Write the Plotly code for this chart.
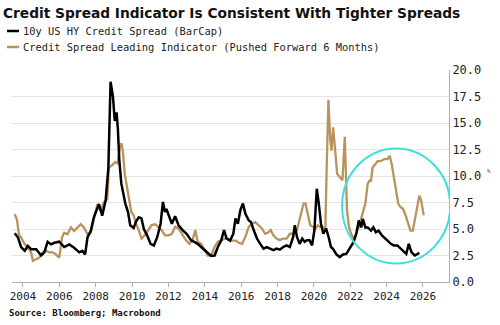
import plotly.graph_objects as go

# 10y US HY Credit Spread (BarCap)
hy_x = [2003.55, 2003.73, 2003.9, 2004.1, 2004.27, 2004.45, 2004.73, 2005.0, 2005.18, 2005.36,
        2005.55, 2005.73, 2006.0, 2006.27, 2006.55, 2006.8, 2007.1, 2007.27, 2007.42, 2007.55,
        2007.73, 2007.9, 2008.18, 2008.36, 2008.55, 2008.7, 2008.82, 2008.95, 2009.05, 2009.15,
        2009.22, 2009.3, 2009.41, 2009.54, 2009.63, 2009.78, 2009.9, 2010.09, 2010.22, 2010.37,
        2010.52, 2010.65, 2010.83, 2011.02, 2011.2, 2011.39, 2011.57, 2011.7, 2011.81, 2011.89,
        2012.0, 2012.19, 2012.37, 2012.56, 2012.78, 2013.0, 2013.24, 2013.43, 2013.61, 2013.8,
        2014.0, 2014.17, 2014.35, 2014.54, 2014.72, 2014.9, 2015.06, 2015.2, 2015.39, 2015.57,
        2015.69, 2015.82, 2015.96, 2016.1, 2016.23, 2016.42, 2016.54, 2016.69, 2016.87, 2017.05,
        2017.23, 2017.41, 2017.6, 2017.77, 2017.95, 2018.13, 2018.31, 2018.5, 2018.68, 2018.86,
        2018.95, 2019.07, 2019.22, 2019.36, 2019.49, 2019.62, 2019.76, 2019.9, 2020.03, 2020.16,
        2020.27, 2020.39, 2020.52, 2020.67, 2020.81, 2020.94, 2021.06, 2021.24, 2021.42, 2021.6,
        2021.78, 2021.93, 2022.05, 2022.18, 2022.33, 2022.47, 2022.6, 2022.69, 2022.83, 2022.96,
        2023.14, 2023.27, 2023.41, 2023.56, 2023.74, 2023.92, 2024.05, 2024.23, 2024.4, 2024.59,
        2024.77, 2024.95, 2025.08, 2025.22, 2025.37, 2025.55, 2025.67, 2025.8]
hy_y = [4.6, 4.2, 3.3, 2.95, 3.4, 3.1, 3.1, 2.5, 2.8, 3.8,
        3.55, 3.7, 3.8, 3.3, 3.55, 3.25, 2.8, 2.95, 2.6, 4.2,
        4.8, 6.1, 7.35, 6.25, 7.7, 10.8, 18.9, 17.5, 15.2, 16.0,
        14.5, 11.5, 9.3, 8.0, 7.4, 6.6, 5.35, 5.1, 5.7, 6.1,
        6.0, 5.0, 4.4, 3.6, 3.45, 4.25, 5.5, 7.55, 6.6, 6.9,
        6.3, 5.5, 6.2, 5.35, 4.9, 4.55, 3.95, 3.8, 3.6, 3.3,
        3.0, 2.7, 2.45, 2.5, 3.3, 3.9, 4.9, 4.1, 3.9, 4.55,
        6.0, 5.5, 6.8, 7.4, 6.45, 5.8, 5.65, 4.9, 4.1, 3.6,
        3.15, 3.3, 3.15, 3.0, 3.15, 3.05, 3.3, 3.45, 3.3, 4.25,
        5.35, 4.25, 3.6, 4.1, 3.8, 3.95, 3.95, 3.45, 4.9, 8.8,
        7.4, 5.5, 4.55, 5.05, 4.25, 3.3, 3.1, 2.6, 2.35, 2.6,
        2.65, 3.1, 3.45, 3.75, 4.55, 5.8, 5.15, 5.95, 5.15, 5.15,
        4.85, 5.15, 4.7, 4.85, 4.4, 4.05, 3.9, 3.6, 3.45, 3.45,
        3.15, 2.8, 2.65, 3.6, 2.8, 2.5, 2.6, 2.75]

# Credit Spread Leading Indicator (Pushed Forward 6 Months)
li_x = [2003.55, 2003.67, 2003.78, 2003.9, 2004.1, 2004.27, 2004.45, 2004.55, 2004.73, 2004.9,
        2005.09, 2005.27, 2005.45, 2005.64, 2005.82, 2006.0, 2006.15, 2006.27, 2006.45, 2006.64,
        2006.82, 2007.0, 2007.18, 2007.36, 2007.55, 2007.73, 2007.9, 2008.1, 2008.27, 2008.45,
        2008.64, 2008.73, 2008.9, 2009.07, 2009.2, 2009.35, 2009.42, 2009.5, 2009.6, 2009.72,
        2009.8, 2009.96, 2010.09, 2010.22, 2010.37, 2010.52, 2010.7, 2010.89, 2011.07, 2011.26,
        2011.44, 2011.63, 2011.81, 2012.0, 2012.19, 2012.37, 2012.56, 2012.74, 2012.96, 2013.15,
        2013.33, 2013.48, 2013.61, 2013.8, 2014.0, 2014.17, 2014.35, 2014.54, 2014.72, 2014.9,
        2015.1, 2015.25, 2015.42, 2015.69, 2015.87, 2016.05, 2016.23, 2016.42, 2016.6, 2016.78,
        2016.96, 2017.14, 2017.32, 2017.5, 2017.63, 2017.77, 2017.95, 2018.13, 2018.31, 2018.5,
        2018.68, 2018.86, 2019.07, 2019.25, 2019.43, 2019.54, 2019.67, 2019.8, 2019.94, 2020.09,
        2020.21, 2020.34, 2020.48, 2020.63, 2020.7, 2020.8, 2020.9, 2020.97, 2021.06, 2021.15,
        2021.28, 2021.42, 2021.57, 2021.7, 2021.75, 2021.82, 2021.93, 2022.05, 2022.18, 2022.33,
        2022.47, 2022.6, 2022.69, 2022.83, 2022.96, 2023.05, 2023.14, 2023.23, 2023.38, 2023.5,
        2023.68, 2023.86, 2024.05, 2024.17, 2024.28, 2024.4, 2024.53, 2024.64, 2024.77, 2024.9,
        2025.04, 2025.19, 2025.31, 2025.44, 2025.55, 2025.67, 2025.8, 2025.9, 2026.04]
li_y = [6.4, 5.9, 4.5, 4.2, 3.55, 3.25, 2.8, 2.0, 2.15, 2.3,
        2.8, 2.95, 2.8, 2.8, 2.6, 2.3, 4.2, 4.65, 4.5, 5.15,
        4.8, 5.15, 5.45, 5.15, 4.5, 4.65, 5.8, 7.35, 6.7, 7.5,
        7.8, 10.8, 11.0, 11.3, 11.2, 12.8, 13.1, 12.3, 10.2, 9.0,
        7.9, 6.6, 6.3, 5.5, 4.9, 4.1, 4.4, 4.9, 5.35, 5.45,
        5.2, 4.9, 4.4, 4.4, 4.55, 5.2, 5.05, 4.55, 3.95, 3.6,
        3.95, 4.9, 3.8, 3.6, 3.0, 2.5, 2.5, 3.3, 3.8, 3.9,
        4.1, 4.1, 3.9, 3.9, 3.7, 3.6, 4.25, 5.2, 5.5, 5.65,
        5.35, 5.05, 4.55, 4.7, 4.9, 4.4, 4.1, 3.95, 4.1, 4.1,
        4.55, 4.55, 4.9, 6.15, 7.4, 7.4, 6.45, 5.35, 5.2, 5.05,
        5.35, 5.2, 5.2, 5.05, 10.5, 17.2, 13.5, 12.4, 14.6, 12.6,
        10.2, 9.9, 9.6, 13.7, 9.6, 6.8, 5.2, 4.55, 4.1, 4.55,
        5.2, 6.0, 6.6, 7.4, 9.25, 9.55, 9.55, 10.8, 11.1, 11.4,
        11.4, 11.6, 11.6, 11.9, 11.1, 9.9, 8.6, 7.4, 7.05, 6.9,
        6.3, 5.5, 4.85, 4.85, 5.8, 6.75, 8.15, 7.7, 6.3]

x_ticks = [2004, 2006, 2008, 2010, 2012, 2014, 2016, 2018, 2020, 2022, 2024, 2026]
y_ticks = [0, 2.5, 5, 7.5, 10, 12.5, 15, 17.5, 20]

names = ["10y US HY Credit Spread (BarCap)",
         "Credit Spread Leading Indicator (Pushed Forward 6 Months)"]
BLACK = "#000000"
GOLD = "#b9935c"
CYAN = "#3fe0dc"
MONO = "DejaVu Sans Mono"

fig = go.Figure()
fig.add_trace(go.Scatter(x=li_x, y=li_y, mode="lines", name=names[1],
                         line=dict(color=GOLD, width=2.3), showlegend=False))
fig.add_trace(go.Scatter(x=hy_x, y=hy_y, mode="lines", name=names[0],
                         line=dict(color=BLACK, width=2.5), showlegend=False))

# circle highlighting recent divergence
fig.add_shape(type="circle", xref="x", yref="y", x0=2021.55, x1=2027.5, y0=1.75, y1=12.6,
              line=dict(color=CYAN, width=2))

# plot area: x 10..449, y 70..282
PL, PR, PT, PB = 10, 449, 70, 282
def px(xp):
    return (xp - PL) / (PR - PL)
def py(yp):
    return (PB - yp) / (PB - PT)

# manual legend
for i, (col, ypix) in enumerate([(BLACK, 31), (GOLD, 47)]):
    fig.add_shape(type="line", xref="paper", yref="paper",
                  x0=px(5), x1=px(17), y0=py(ypix), y1=py(ypix),
                  line=dict(color=col, width=2.5))
    fig.add_annotation(xref="paper", yref="paper", x=px(19), y=py(ypix),
                       xanchor="left", yanchor="middle", showarrow=False,
                       text=names[i], font=dict(family=MONO, size=10.4, color="#222"))

fig.add_annotation(xref="paper", yref="paper", x=px(5), y=py(313),
                   xanchor="left", yanchor="middle", showarrow=False,
                   text="<b>Source: Bloomberg; Macrobond</b>",
                   font=dict(family=MONO, size=9, color="#111"))
fig.add_annotation(xref="paper", yref="paper", x=px(485), y=py(170),
                   xanchor="left", yanchor="middle", showarrow=False,
                   text="%", font=dict(family=MONO, size=6, color="#555"))

fig.update_layout(
    width=500, height=325,
    margin=dict(l=PL, r=500 - PR, t=PT, b=325 - PB),
    paper_bgcolor="white", plot_bgcolor="white",
    title=dict(text="<b>Credit Spread Indicator Is Consistent With Tighter Spreads</b>",
               x=0.006, xanchor="left", y=1 - 13 / 325, yanchor="middle",
               font=dict(family="DejaVu Sans", size=13.75, color="#111")),
    xaxis=dict(range=[2003.4, 2027.43], tickmode="array", tickvals=x_ticks,
               ticktext=[str(v) for v in x_ticks], showgrid=False, zeroline=False,
               showline=True, linecolor="#b0b0b0", linewidth=1,
               ticks="outside", ticklen=4, tickcolor="#b0b0b0",
               tickfont=dict(family=MONO, size=11, color="#222")),
    yaxis=dict(range=[0, 20], side="right", tickmode="array", tickvals=y_ticks,
               tickformat=".1f", showgrid=True, gridcolor="#e4e4e4", gridwidth=1,
               zeroline=False, showline=True, linecolor="#b0b0b0", linewidth=1,
               ticks="", tickfont=dict(family=MONO, size=12, color="#222")),
)

fig.write_html("out.html")
